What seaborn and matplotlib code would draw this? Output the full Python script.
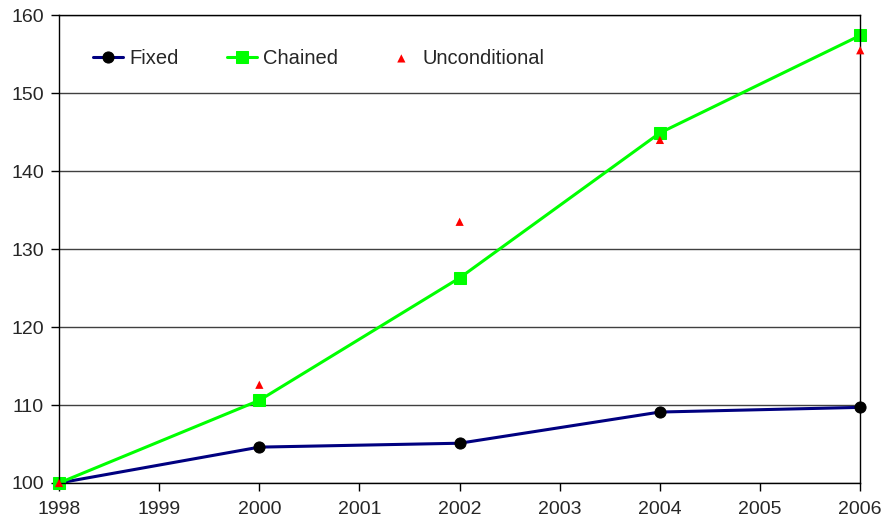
import pandas as pd
import matplotlib
matplotlib.use("Agg")
import matplotlib.pyplot as plt
import seaborn as sns

years = [1998, 2000, 2002, 2004, 2006]
fixed = [100.0, 104.6, 105.1, 109.1, 109.7]
chained = [100.0, 110.6, 126.3, 144.9, 157.4]
unconditional = [100.0, 112.6, 133.5, 144.0, 155.5]

df = pd.DataFrame({"year": years, "Fixed": fixed, "Chained": chained,
                   "Unconditional": unconditional})

sns.set_style("white")
plt.rcParams["font.family"] = ["Liberation Sans", "DejaVu Sans"]

fig = plt.figure(figsize=(8.85, 5.23), dpi=100)
ax = fig.add_axes([0.0667, 0.0765, 0.9053, 0.8945])

sns.lineplot(data=df, x="year", y="Fixed", ax=ax, color="#000080", lw=2.2,
             marker="o", markersize=8, markerfacecolor="black",
             markeredgecolor="black", label="Fixed", clip_on=False)
sns.lineplot(data=df, x="year", y="Chained", ax=ax, color="#00ff00", lw=2.2,
             marker="s", markersize=8, markerfacecolor="#00ff00",
             markeredgecolor="#00ff00", label="Chained", clip_on=False)
sns.scatterplot(data=df, x="year", y="Unconditional", ax=ax, color="red",
                marker="^", s=35, edgecolor="none", label="Unconditional",
                zorder=5, clip_on=False)

ax.set_xlim(1998, 2006)
ax.set_ylim(100, 160)
ax.set_xticks(range(1998, 2007))
ax.set_yticks(range(100, 161, 10))
ax.yaxis.grid(True, color="#404040", lw=1)
ax.set_axisbelow(True)
ax.set_xlabel("")
ax.set_ylabel("")
for s in ax.spines.values():
    s.set_color("black")
    s.set_linewidth(1)
ax.tick_params(axis="both", labelsize=14, direction="out", length=6,
               width=1, color="black", left=True, bottom=True)
ax.tick_params(axis="x", pad=7)
ax.tick_params(axis="y", pad=5)

ax.legend(loc="center left", bbox_to_anchor=(0.042, 0.908), ncol=3,
          frameon=False, fontsize=14.5, columnspacing=2.4, handlelength=1.5,
          handletextpad=0.3, borderaxespad=0, borderpad=0)

fig.savefig("out.png", dpi=100)
